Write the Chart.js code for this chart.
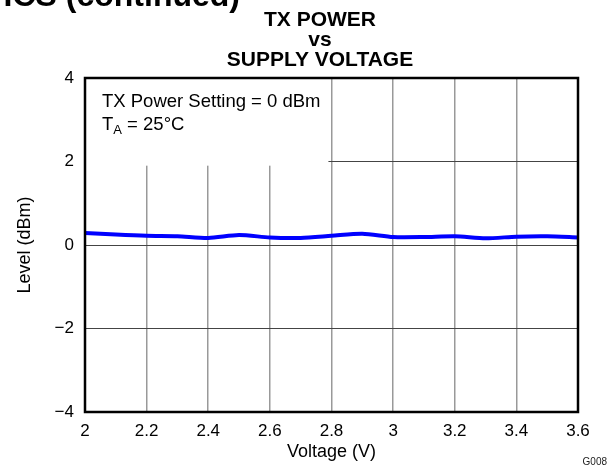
<!DOCTYPE html>
<html>
<head>
<meta charset="utf-8">
<script src="https://cdn.jsdelivr.net/npm/chart.js@4/dist/chart.umd.min.js"></script>
<style>
  html, body { margin: 0; padding: 0; background: #fff; }
  #wrap { position: relative; width: 613px; height: 471px; }
</style>
</head>
<body>
<div id="wrap"><canvas id="c" width="613" height="471"></canvas></div>
<script>
// ---- data ----
const voltages = [2.0, 2.1, 2.2, 2.3, 2.4, 2.5, 2.6, 2.7, 2.8, 2.9, 3.0, 3.1, 3.2, 3.3, 3.4, 3.5, 3.6];
const levels   = [0.29, 0.25, 0.22, 0.21, 0.17, 0.24, 0.18, 0.17, 0.22, 0.27, 0.19, 0.19, 0.21, 0.16, 0.20, 0.21, 0.18];
const xTickValues = [2, 2.2, 2.4, 2.6, 2.8, 3, 3.2, 3.4, 3.6];
const xTickLabels = ['2', '2.2', '2.4', '2.6', '2.8', '3', '3.2', '3.4', '3.6'];
const yTickValues = [-4, -2, 0, 2, 4];
const yTickLabels = ['\u22124', '\u22122', '0', '2', '4'];
const titleLines = ['TX POWER', 'vs', 'SUPPLY VOLTAGE'];
const noteLine1 = 'TX Power Setting = 0 dBm';
const noteLine2 = ['T', 'A', ' = 25\u00B0C'];
const xTitle = 'Voltage (V)';
const yTitle = 'Level (dBm)';
const figId = 'G008';
const headerText = 'CHARACTERISTICS (continued)';

const FONT = "'Liberation Sans', Arial, Helvetica, sans-serif";

const decorPlugin = {
  id: 'decor',
  beforeDatasetsDraw(chart) {
    // white note box covering the grid in the upper-left corner
    const {ctx, chartArea, scales} = chart;
    const x1 = scales.x.getPixelForValue(2.79);
    const y1 = scales.y.getPixelForValue(1.9);
    ctx.save();
    ctx.fillStyle = '#ffffff';
    ctx.fillRect(chartArea.left, chartArea.top, x1 - chartArea.left, y1 - chartArea.top);
    ctx.restore();
  },
  afterDraw(chart) {
    const {ctx, chartArea} = chart;
    ctx.save();
    // frame
    ctx.strokeStyle = '#000';
    ctx.lineWidth = 2.5;
    ctx.strokeRect(chartArea.left, chartArea.top, chartArea.right - chartArea.left, chartArea.bottom - chartArea.top);
    // title
    const cx = 320;
    ctx.fillStyle = '#000';
    ctx.textAlign = 'center';
    ctx.textBaseline = 'alphabetic';
    ctx.font = 'bold 21px ' + FONT;
    ctx.fillText(titleLines[0], cx, 26);
    ctx.fillText(titleLines[1], cx, 46);
    ctx.fillText(titleLines[2], cx, 66);
    // header fragment
    ctx.textAlign = 'right';
    ctx.font = 'bold 32px ' + FONT;
    ctx.fillText(headerText, 240, 6);
    // note
    ctx.textAlign = 'left';
    ctx.font = '18.5px ' + FONT;
    const nx = chartArea.left + 17;
    ctx.fillText(noteLine1, nx, 107);
    ctx.fillText(noteLine2[0], nx, 130);
    const w0 = ctx.measureText(noteLine2[0]).width;
    ctx.font = '13px ' + FONT;
    ctx.fillText(noteLine2[1], nx + w0, 134);
    const w1 = ctx.measureText(noteLine2[1]).width;
    ctx.font = '18.5px ' + FONT;
    ctx.fillText(noteLine2[2], nx + w0 + w1, 130);
    // figure id
    ctx.font = '10px ' + FONT;
    ctx.textAlign = 'right';
    ctx.fillStyle = '#222';
    ctx.fillText(figId, 607, 465);
    ctx.restore();
  }
};

new Chart(document.getElementById('c'), {
  type: 'line',
  data: {
    datasets: [{
      data: voltages.map((v, i) => ({x: v, y: levels[i]})),
      borderColor: '#0000ff',
      borderWidth: 4,
      pointRadius: 0,
      tension: 0.25,
      fill: false
    }]
  },
  options: {
    responsive: false,
    animation: false,
    events: [],
    layout: { padding: { top: 78, right: 35, left: 0, bottom: 0 } },
    plugins: { legend: { display: false }, tooltip: { enabled: false }, title: { display: false } },
    scales: {
      x: {
        type: 'linear',
        min: 2, max: 3.6,
        afterFit(s) { s.height = 59; },
        afterBuildTicks(s) { s.ticks = xTickValues.map(v => ({value: v})); },
        ticks: {
          padding: 9,
          color: '#000',
          font: { family: FONT, size: 17 },
          callback: (v, i) => xTickLabels[i]
        },
        grid: { color: '#999', lineWidth: 1.5, drawTicks: false },
        border: { display: false },
        title: { display: true, text: xTitle, color: '#000', font: { family: FONT, size: 18 }, padding: { top: 0, bottom: 8 } }
      },
      y: {
        type: 'linear',
        min: -4, max: 4,
        afterFit(s) { s.width = 85; },
        afterBuildTicks(s) { s.ticks = yTickValues.map(v => ({value: v})); },
        ticks: {
          padding: 11,
          color: '#000',
          font: { family: FONT, size: 17 },
          callback: (v, i) => yTickLabels[i]
        },
        grid: { color: '#444', lineWidth: 1, drawTicks: false },
        border: { display: false },
        title: { display: true, text: yTitle, color: '#000', font: { family: FONT, size: 18 }, padding: { top: 14, bottom: 0 } }
      }
    }
  },
  plugins: [decorPlugin]
});
</script>
</body>
</html>
